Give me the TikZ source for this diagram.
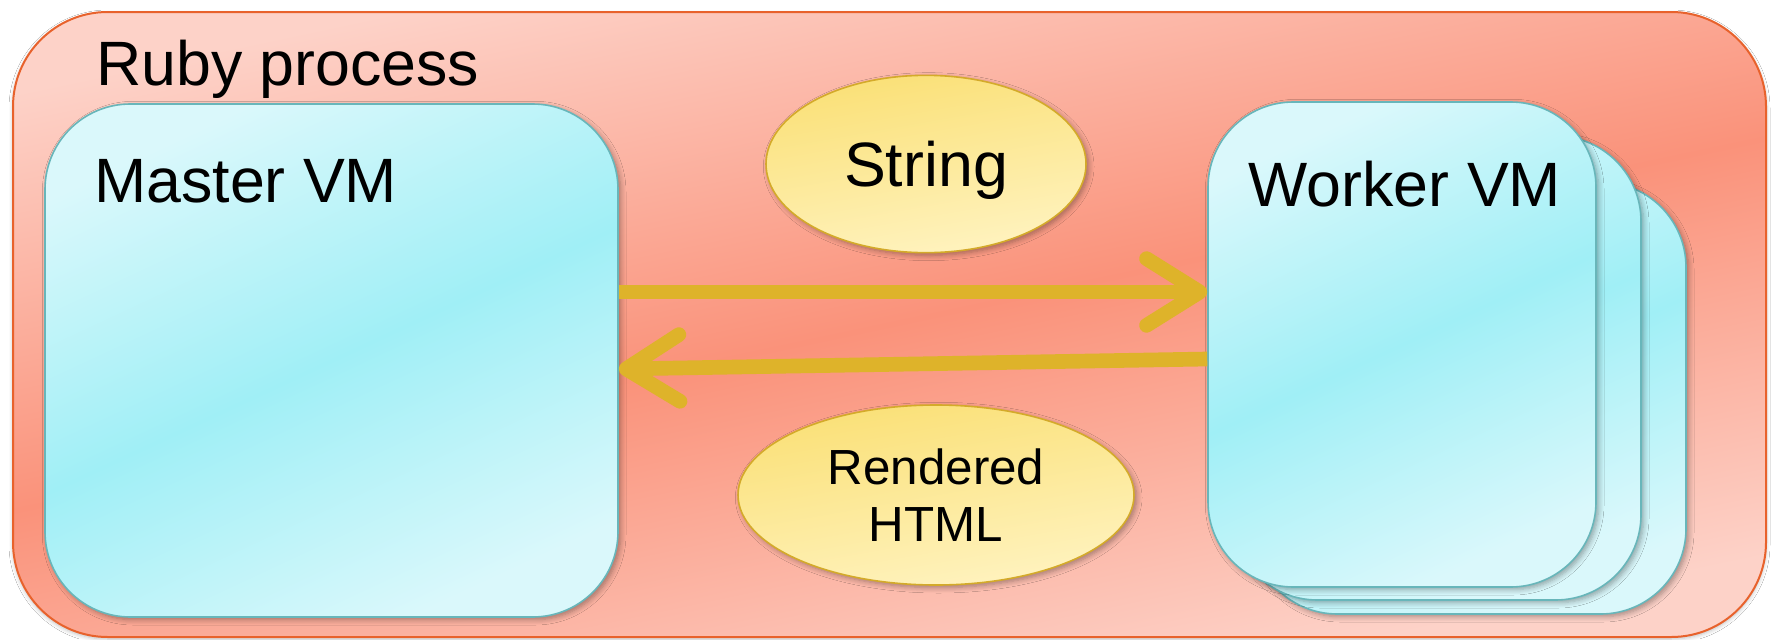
\documentclass[tikz,border=0pt]{standalone}
\usepackage{fontspec}
\setmainfont{Liberation Sans}
\usetikzlibrary{arrows.meta,shapes.geometric,shadows.blur,fit,calc}
\definecolor{procborder}{RGB}{232,98,44}
\definecolor{proclight}{RGB}{253,210,200}
\definecolor{procmid}{RGB}{250,146,122}
\definecolor{vmborder}{RGB}{104,182,186}
\definecolor{vmlight}{RGB}{218,248,251}
\definecolor{vmmid}{RGB}{160,239,246}
\definecolor{elborder}{RGB}{212,170,42}
\definecolor{elmid}{RGB}{250,224,118}
\definecolor{ellight}{RGB}{255,243,192}
\definecolor{arrowcol}{RGB}{222,179,42}
\begin{document}
\begin{tikzpicture}[x=0.75pt,y=-0.75pt,
  process/.style={draw=procborder, line width=1.5pt, rounded corners=71pt, inner sep=0pt,
    top color=proclight, bottom color=proclight, middle color=procmid, shading angle=12,
    blur shadow={shadow blur steps=6, shadow xshift=0pt, shadow yshift=-1.5pt, shadow blur radius=3pt, shadow opacity=25}},
  vm/.style={draw=vmborder, line width=1.2pt, rounded corners=64pt, inner sep=0pt,
    top color=vmlight, bottom color=vmlight, middle color=vmmid, shading angle=25,
    blur shadow={shadow blur steps=6, shadow xshift=2pt, shadow yshift=-2pt, shadow blur radius=4pt, shadow opacity=35}},
  msg/.style={ellipse, draw=elborder, line width=1.2pt, inner sep=0pt,
    top color=elmid, bottom color=ellight, shading angle=10,
    blur shadow={shadow blur steps=6, shadow xshift=2pt, shadow yshift=-2pt, shadow blur radius=4pt, shadow opacity=35}},
  big/.style={font=\fontsize{47}{56}\selectfont},
  small/.style={font=\fontsize{37}{43}\selectfont, align=center},
  flow/.style={draw=arrowcol, line width=11pt, -{Straight Barb[length=40pt,width=50pt,round]}},
]
\useasboundingbox (0,0) rectangle (1777,639);
\fill[white] (0,0) rectangle (1777,639);

\node[process, fit={(13,12) (1766,637)}] (proc) {};
\node[big, anchor=base west, inner sep=0pt] (proctext) at (96,85) {Ruby process};

\node[vm, fit={(1252,182) (1686,614)}] (worker3) {};
\node[vm, fit={(1232,136) (1641,600)}] (worker2) {};
\node[vm, fit={(1208,102) (1596,587)}] (worker1) {};
\node[big, anchor=base, inner sep=0pt] (workertext) at (1405,206) {Worker VM};

\node[vm, fit={(45,104) (618,617)}] (master) {};
\node[big, anchor=base west, inner sep=0pt] (mastertext) at (94,202) {Master VM};

\node[msg, minimum width=240pt, minimum height=133pt, big, text depth=0pt] (string) at (926,164) {String};
\node[msg, minimum width=297pt, minimum height=135pt, small] (html) at (936,495) {Rendered\\HTML};

\coordinate (s1) at (0,292);
\coordinate (r1) at (0,359);
\coordinate (r2) at (0,369);
\draw[flow] (master.east |- s1) -- (worker1.west |- s1);
\draw[flow] (worker1.west |- r1) -- (master.east |- r2);
\end{tikzpicture}
\end{document}
